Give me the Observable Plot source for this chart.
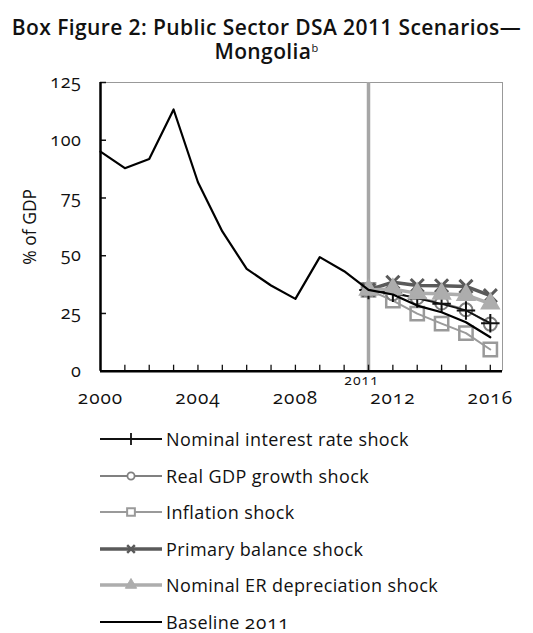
<!DOCTYPE html>
<html>
<head>
<meta charset="utf-8">
<script src="https://cdn.jsdelivr.net/npm/d3@7"></script>
<script src="https://cdn.jsdelivr.net/npm/@observablehq/plot@0.6"></script>
<style>
  html, body { margin: 0; padding: 0; background: #fff; }
  body { width: 533px; font-family: "Open Sans", Lato, sans-serif; color: #111; }
  #title { text-align: center; font-size: 21px; font-weight: 600; line-height: 24px; padding-top: 15px; height: 50px; letter-spacing: 0.4px; white-space: nowrap; }
  #title sup { font-size: 11px; font-weight: 400; vertical-align: 7px; line-height: 0; color: #111; }
  #chart { height: 345px; }
  #legend { padding-top: 11px; }
  .row { margin-left: 100px; height: 36.5px; line-height: 20px; display: flex; align-items: center; font-size: 18px; letter-spacing: 0.4px; white-space: nowrap; }
  .row svg { margin-right: 4px; flex: none; }
  .num { font-variant-numeric: oldstyle-nums; font-feature-settings: "onum" 1; font-size: 19px; letter-spacing: 0.8px; }
  #chart g[aria-label="x-axis tick label"] text { letter-spacing: 1px; }
  #chart g[aria-label="y-axis tick label"] text { letter-spacing: 0.6px; }
</style>
</head>
<body>
<div id="title">Box Figure 2: Public Sector DSA 2011 Scenarios—<br>Mongolia<sup>b</sup></div>
<div id="chart"></div>
<div id="legend"></div>
<script>
// ---- data ----
const histYears = [2000, 2001, 2002, 2003, 2004, 2005, 2006, 2007, 2008, 2009, 2010, 2011, 2012, 2013, 2014, 2015, 2016];
const baseline2011 = [95.1, 87.9, 91.9, 113.3, 81.8, 60.5, 44.3, 37.1, 31.3, 49.4, 43.3, 35.2, 33.2, 28.4, 25.5, 21.2, 14.7];
const projYears = [2011, 2012, 2013, 2014, 2015, 2016];
const nominalInterest = [35.2, 34.0, 31.5, 29.2, 26.3, 20.8];
const realGDP = [35.2, 33.5, 31.8, 29.5, 26.6, 20.4];
const inflation = [35.2, 30.6, 24.9, 20.6, 16.5, 9.4];
const primaryBalance = [35.2, 38.5, 37.1, 37.0, 36.7, 32.7];
const nominalER = [35.2, 35.6, 33.7, 33.5, 33.0, 29.3];
const yTicks = [0, 25, 50, 75, 100, 125];
const xLabelTicks = [2000, 2004, 2008, 2012, 2016];
const splitYear = [2011];
const seriesNames = ["Nominal interest rate shock", "Real GDP growth shock", "Inflation shock", "Primary balance shock", "Nominal ER depreciation shock", "Baseline 2011"];

const mk = (vals) => projYears.map((y, i) => ({year: y, value: vals[i]}));
const base = histYears.map((y, i) => ({year: y, value: baseline2011[i]}));

const styles = [
  {data: mk(nominalInterest), stroke: "#111", sw: 1.8, symbol: "plus", r: 6, fill: "none", dsw: 2},
  {data: mk(realGDP), stroke: "#808080", sw: 2, symbol: "circle", r: 6.5, fill: "#fff", dsw: 2},
  {data: mk(inflation), stroke: "#9a9a9a", sw: 2, symbol: "square", r: 7.5, fill: "none", dsw: 2.5},
  {data: mk(primaryBalance), stroke: "#5a5a5a", sw: 3.5, symbol: "times", r: 6, fill: "none", dsw: 3},
  {data: mk(nominalER), stroke: "#adadad", sw: 3.5, symbol: "triangle", r: 6, fill: "#adadad", dsw: 2.5}
];

const numFont = "'Open Sans', sans-serif";
const onum = "oldstyle-nums";
const marks = [
  Plot.ruleY([0], {stroke: "#999", strokeWidth: 1, dy: -288.7}),
  Plot.ruleX(splitYear, {stroke: "#a6a6a6", strokeWidth: 3.5}),
  Plot.axisY(yTicks, {tickSize: -6, tickPadding: 25, fontSize: 18, fontFamily: numFont, fontVariant: onum, stroke: "#111", strokeWidth: 1.5, label: null}),
  Plot.axisX(d3.range(2001, 2017), {tickSize: -6, tickFormat: () => "", stroke: "#111", strokeWidth: 1.3, label: null}),
  Plot.axisX(xLabelTicks, {tickSize: 0, tickPadding: 19, fontSize: 19, fontFamily: numFont, fontVariant: onum, tickFormat: d => String(d), label: null}),
  Plot.axisX(splitYear, {tickSize: 0, tickPadding: 4, fontSize: 14, fontFamily: numFont, fontVariant: onum, dx: -7, tickFormat: d => String(d), label: null}),
  Plot.text(["% of GDP"], {frameAnchor: "left", textAnchor: "middle", dx: -70, rotate: -90, fontSize: 17.5})
];
for (const s of [styles[2], styles[1], styles[0], styles[3], styles[4]]) {
  marks.push(Plot.line(s.data, {x: "year", y: "value", stroke: s.stroke, strokeWidth: s.sw}));
  marks.push(Plot.dot(s.data, {x: "year", y: "value", symbol: s.symbol, r: s.r, stroke: s.stroke, fill: s.fill, strokeWidth: s.dsw}));
}
marks.push(Plot.line(base, {x: "year", y: "value", stroke: "#000", strokeWidth: 2.2}));
marks.push(Plot.ruleX([2016.5], {stroke: "#999", strokeWidth: 1}));
marks.push(Plot.ruleX([2000], {stroke: "#000", strokeWidth: 2.5}));
marks.push(Plot.ruleY([0], {stroke: "#000", strokeWidth: 2.5}));

const chart = Plot.plot({
  width: 533,
  height: 345,
  marginTop: 17,
  marginBottom: 39.3,
  marginLeft: 100,
  marginRight: 31,
  style: {fontFamily: "'Open Sans', Lato, sans-serif", color: "#111", background: "#fff"},
  x: {domain: [2000, 2016.5]},
  y: {domain: [0, 125]},
  marks
});
document.getElementById("chart").appendChild(chart);

// ---- legend ----
try {
  const legend = document.getElementById("legend");
  const timesSym = d3.symbolTimes || d3.symbolX || d3.symbolCross;
  const legendStyles = [
    {stroke: "#111", sw: 1.8, symbol: d3.symbolPlus, size: 50, fill: "none", dsw: 1.8},
    {stroke: "#808080", sw: 2, symbol: d3.symbolCircle, size: 40, fill: "#fff", dsw: 1.8},
    {stroke: "#9a9a9a", sw: 2, symbol: d3.symbolSquare, size: 60, fill: "#fff", dsw: 2},
    {stroke: "#5a5a5a", sw: 3.5, symbol: timesSym, size: 40, fill: "none", dsw: 2.5},
    {stroke: "#adadad", sw: 3.5, symbol: d3.symbolTriangle, size: 55, fill: "#adadad", dsw: 1},
    {stroke: "#000", sw: 2.2, symbol: null}
  ];
  seriesNames.forEach((name, i) => {
    const st = legendStyles[i];
    const row = document.createElement("div");
    row.className = "row";
    const ns = "http://www.w3.org/2000/svg";
    const svg = document.createElementNS(ns, "svg");
    svg.setAttribute("width", "62");
    svg.setAttribute("height", "20");
    const ln = document.createElementNS(ns, "line");
    ln.setAttribute("x1", "0"); ln.setAttribute("x2", "62");
    ln.setAttribute("y1", "10"); ln.setAttribute("y2", "10");
    ln.setAttribute("stroke", st.stroke); ln.setAttribute("stroke-width", st.sw);
    svg.appendChild(ln);
    if (st.symbol) {
      const p = document.createElementNS(ns, "path");
      p.setAttribute("d", d3.symbol(st.symbol, st.size)());
      p.setAttribute("transform", "translate(31,10)");
      p.setAttribute("stroke", st.stroke);
      p.setAttribute("fill", st.fill);
      p.setAttribute("stroke-width", st.dsw);
      svg.appendChild(p);
    }
    row.appendChild(svg);
    const t = document.createElement("span");
    name.split(/(\d+)/).forEach(part => {
      if (!part) return;
      if (/^\d+$/.test(part)) {
        const n = document.createElement("span");
        n.className = "num";
        n.textContent = part;
        t.appendChild(n);
      } else {
        t.appendChild(document.createTextNode(part));
      }
    });
    row.appendChild(t);
    legend.appendChild(row);
  });
} catch (e) {
  document.getElementById("legend").textContent = "ERR " + e.message;
}
</script>
</body>
</html>
